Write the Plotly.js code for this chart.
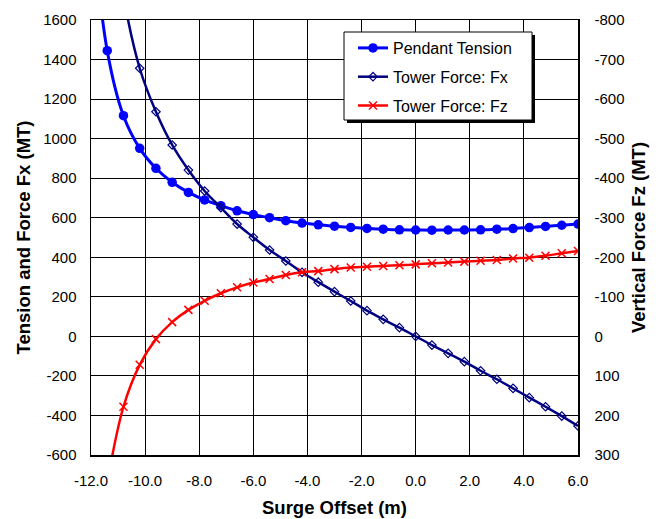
<!DOCTYPE html>
<html>
<head>
<meta charset="utf-8">
<script src="https://cdn.plot.ly/plotly-3.0.1.min.js"></script>
<style>
html,body{margin:0;padding:0;background:#fff;}
#chart{width:663px;height:519px;}
</style>
</head>
<body>
<div id="chart"></div>
<script>
// Surge offset (m)
var surgeOffset = [-12.0, -11.4, -10.8, -10.2, -9.6, -9.0, -8.4, -7.8, -7.2, -6.6, -6.0, -5.4, -4.8, -4.2, -3.6, -3.0, -2.4, -1.8, -1.2, -0.6, 0.0, 0.6, 1.2, 1.8, 2.4, 3.0, 3.6, 4.2, 4.8, 5.4, 6.0];
// Pendant Tension (MT), left axis
var pendantTension = [2150, 1445, 1116, 951, 850, 779, 728, 690, 661, 635, 616, 600, 585, 573, 564, 557, 551, 546, 542, 539, 538, 537, 538, 538, 539, 542, 545, 550, 556, 562, 568];
// Tower Force Fx (MT), left axis
var towerFx = [3200, 2300, 1720, 1356, 1136, 968, 841, 735, 651, 568, 501, 437, 381, 324, 274, 226, 179, 130, 86, 44, 0, -44, -86, -128, -174, -217, -263, -310, -356, -403, -453];
// Tower Force Fz (MT), right axis (reversed)
var towerFz = [650, 370, 178, 72, 7, -36, -67, -90, -109, -124, -136, -145, -155, -162, -165, -170, -174, -176, -178, -180, -182, -185, -187, -189, -191, -193, -197, -199, -204, -210, -216];

var seriesNames = ['Pendant Tension', 'Tower Force: Fx', 'Tower Force: Fz'];

var xTickVals = [-12, -10, -8, -6, -4, -2, 0, 2, 4, 6];
var xTickText = ['-12.0', '-10.0', '-8.0', '-6.0', '-4.0', '-2.0', '0.0', '2.0', '4.0', '6.0'];
var yTickVals = [-600, -400, -200, 0, 200, 400, 600, 800, 1000, 1200, 1400, 1600];
var yTickText = ['-600', '-400', '-200', '0', '200', '400', '600', '800', '1000', '1200', '1400', '1600'];
var y2TickVals = [300, 200, 100, 0, -100, -200, -300, -400, -500, -600, -700, -800];
var y2TickText = ['300', '200', '100', '0', '-100', '-200', '-300', '-400', '-500', '-600', '-700', '-800'];

var FONT = 'Arial, "Liberation Sans", sans-serif';

var traces = [
  {
    x: surgeOffset, y: pendantTension, name: seriesNames[0], type: 'scatter', mode: 'lines+markers',
    line: {color: '#0000FF', width: 3, shape: 'spline', smoothing: 1},
    marker: {symbol: 'circle', size: 9.5, color: '#0000FF'},
    legendgroup: 'a'
  },
  {
    x: surgeOffset, y: towerFx, name: seriesNames[1], type: 'scatter', mode: 'lines+markers',
    line: {color: '#000080', width: 2.5, shape: 'spline', smoothing: 1},
    marker: {symbol: 'diamond-open', size: 6.5, color: '#000080', line: {width: 1.2, color: '#000080'}},
    legendgroup: 'b'
  },
  {
    x: surgeOffset, y: towerFz, name: seriesNames[2], type: 'scatter', mode: 'lines+markers', yaxis: 'y2',
    line: {color: '#FF0000', width: 2.5, shape: 'spline', smoothing: 1},
    marker: {symbol: 'x-thin', size: 8, color: '#FF0000', line: {width: 1.5, color: '#FF0000'}},
    legendgroup: 'c'
  }
];

// plot area in pixels: x 91..578, y 20..455
function px(xp) { return (xp - 91) / 487; }
function py(yp) { return (455 - yp) / 435; }

var layout = {
  width: 663, height: 519,
  margin: {l: 91, r: 85, t: 20, b: 64, pad: 0},
  paper_bgcolor: '#fff', plot_bgcolor: '#fff',
  font: {family: FONT, size: 15, color: '#000'},
  showlegend: true,
  legend: {
    x: px(353), y: py(31), xanchor: 'left', yanchor: 'top',
    bgcolor: 'rgba(0,0,0,0)', borderwidth: 0,
    font: {family: FONT, size: 16, color: '#000'},
    traceorder: 'grouped', tracegroupgap: 5
  },
  xaxis: {
    range: [-12, 6], tickmode: 'array', tickvals: xTickVals, ticktext: xTickText,
    showgrid: true, gridcolor: '#000', gridwidth: 1,
    showline: true, linecolor: '#000', linewidth: 1.5, mirror: true,
    ticks: '', zeroline: false, ticklabelstandoff: 11,
    tickfont: {family: FONT, size: 15},
    title: {text: '<b>Surge Offset (m)</b>', font: {family: FONT, size: 18.5}, standoff: 13}
  },
  yaxis: {
    range: [-600, 1600], tickmode: 'array', tickvals: yTickVals, ticktext: yTickText,
    showgrid: true, gridcolor: '#000', gridwidth: 1,
    showline: true, linecolor: '#000', linewidth: 1.5, mirror: true,
    ticks: '', zeroline: false, ticklabelstandoff: 10,
    tickfont: {family: FONT, size: 15},
    title: {text: '<b>Tension and Force Fx (MT)</b>', font: {family: FONT, size: 18.5}, standoff: 7}
  },
  yaxis2: {
    range: [300, -800], overlaying: 'y', side: 'right', tickmode: 'array', tickvals: y2TickVals, ticktext: y2TickText,
    showgrid: false, showline: true, linecolor: '#000', linewidth: 1.5,
    ticks: '', zeroline: false, ticklabelstandoff: 12,
    tickfont: {family: FONT, size: 15},
    title: {text: '<b>Vertical Force Fz (MT)</b>', font: {family: FONT, size: 18.5}, standoff: 8}
  },
  shapes: [
    // legend shadow
    {type: 'rect', xref: 'paper', yref: 'paper', x0: px(347), x1: px(535), y0: py(123), y1: py(35),
     fillcolor: '#000', line: {width: 0}, layer: 'above'},
    // legend box
    {type: 'rect', xref: 'paper', yref: 'paper', x0: px(344), x1: px(532), y0: py(120), y1: py(32),
     fillcolor: '#fff', line: {width: 1, color: '#000'}, layer: 'above'}
  ]
};

Plotly.newPlot('chart', traces, layout, {displayModeBar: false, staticPlot: true});
</script>
</body>
</html>
